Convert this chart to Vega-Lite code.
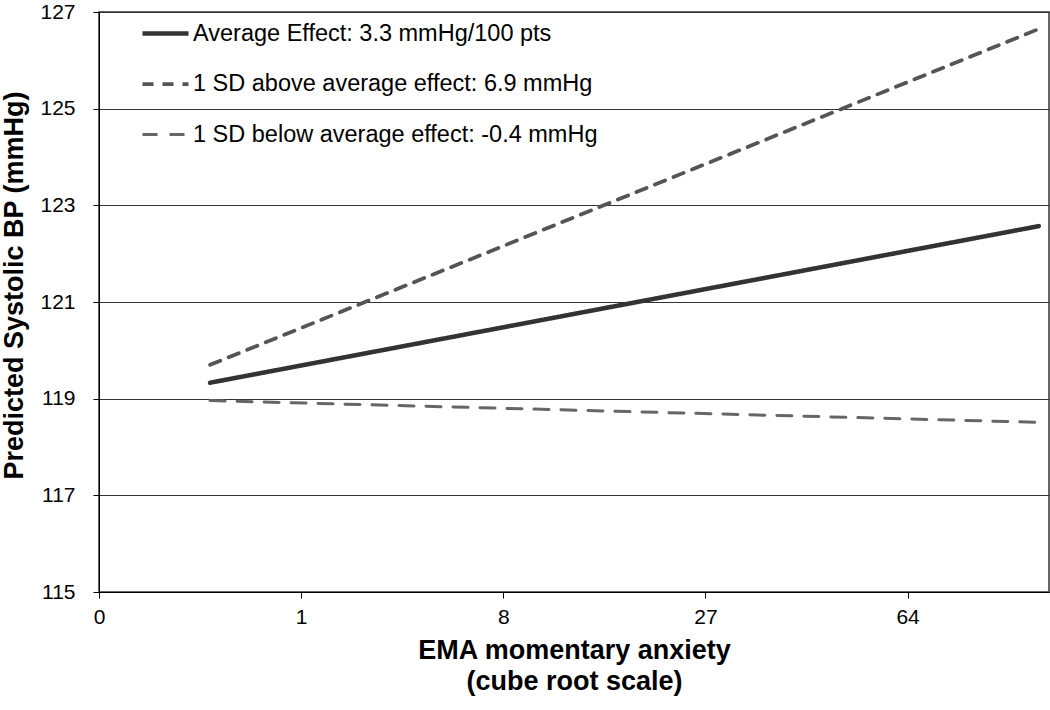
{
  "$schema": "https://vega.github.io/schema/vega-lite/v6.json",
  "width": 950,
  "height": 580,
  "autosize": "none",
  "padding": {"left": 99, "top": 12, "right": 1, "bottom": 118},
  "background": "white",
  "config": {
    "font": "Liberation Sans",
    "view": {"stroke": "#333", "strokeWidth": 1.5},
    "axis": {"labelFont": "Liberation Sans", "titleFont": "Liberation Sans", "labelColor": "#000", "titleColor": "#000", "domainColor": "#000", "tickColor": "#000"}
  },
  "data": {
    "values": [
      {"series": "Average Effect: 3.3 mmHg/100 pts", "anxiety": 0.166, "bp": 119.33},
      {"series": "Average Effect: 3.3 mmHg/100 pts", "anxiety": 100.5, "bp": 122.57},
      {"series": "1 SD above average effect: 6.9 mmHg", "anxiety": 0.166, "bp": 119.70},
      {"series": "1 SD above average effect: 6.9 mmHg", "anxiety": 100.5, "bp": 126.65},
      {"series": "1 SD below average effect: -0.4 mmHg", "anxiety": 0.166, "bp": 118.96},
      {"series": "1 SD below average effect: -0.4 mmHg", "anxiety": 100.5, "bp": 118.51}
    ]
  },
  "mark": {"type": "line", "strokeCap": "round"},
  "encoding": {
    "x": {
      "field": "anxiety", "type": "quantitative",
      "scale": {"type": "pow", "exponent": 0.3333333, "domain": [0, 103.8], "nice": false, "zero": false},
      "axis": {"values": [0, 1, 8, 27, 64], "grid": false, "labelFontSize": 21, "labelPadding": 8, "tickSize": 6,
        "title": ["EMA momentary anxiety", "(cube root scale)"], "titleFontSize": 27, "titleFontWeight": "bold",
        "titlePadding": 10, "titleLineHeight": 31, "labelFlush": false}
    },
    "y": {
      "field": "bp", "type": "quantitative",
      "scale": {"domain": [115, 127], "nice": false, "zero": false},
      "axis": {"values": [115, 117, 119, 121, 123, 125, 127], "grid": true, "gridColor": "#333", "gridOpacity": 1, "gridWidth": 1,
        "labelFontSize": 21, "labelPadding": 18, "tickSize": 6,
        "title": "Predicted Systolic BP (mmHg)", "titleFontSize": 27, "titleFontWeight": "bold", "titlePadding": 11, "titleY": 273}
    },
    "color": {
      "field": "series", "type": "nominal",
      "scale": {"domain": ["Average Effect: 3.3 mmHg/100 pts", "1 SD above average effect: 6.9 mmHg", "1 SD below average effect: -0.4 mmHg"],
        "range": ["#333333", "#555555", "#666666"]},
      "legend": {"title": null, "orient": "none", "legendX": 41, "legendY": -4, "symbolType": "stroke", "symbolSize": 2116,
        "labelFontSize": 23.5, "labelColor": "#000", "rowPadding": 14, "labelOffset": 2, "symbolStrokeWidth": 3.5, "labelLimit": 700}
    },
    "strokeDash": {
      "field": "series", "type": "nominal",
      "scale": {"domain": ["Average Effect: 3.3 mmHg/100 pts", "1 SD above average effect: 6.9 mmHg", "1 SD below average effect: -0.4 mmHg"],
        "range": [[1, 0], [11, 9], [15, 12]]}
    },
    "strokeWidth": {
      "field": "series", "type": "nominal",
      "scale": {"domain": ["Average Effect: 3.3 mmHg/100 pts", "1 SD above average effect: 6.9 mmHg", "1 SD below average effect: -0.4 mmHg"],
        "range": [4.5, 3, 4]}
    }
  }
}
